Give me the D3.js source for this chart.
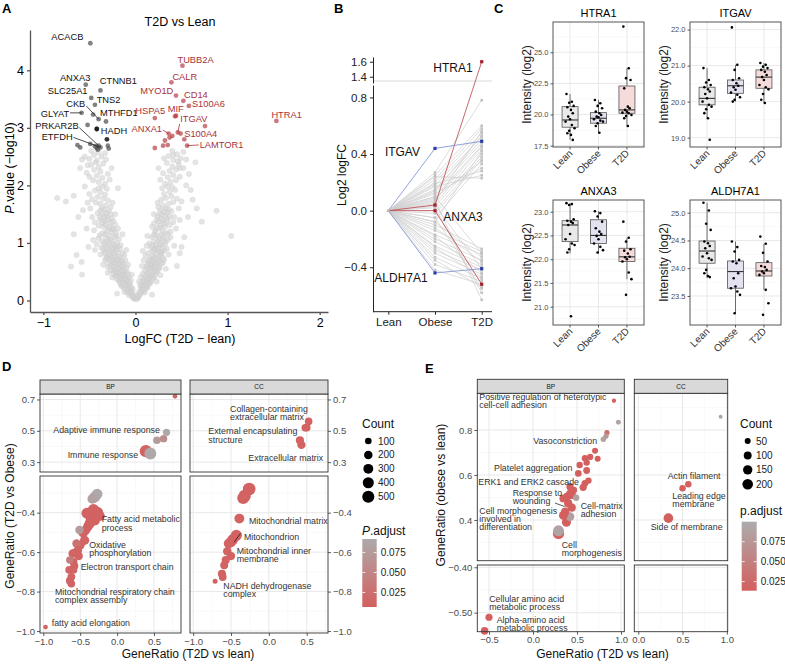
<!DOCTYPE html>
<html><head><meta charset="utf-8">
<script src="https://cdn.jsdelivr.net/npm/d3@7/dist/d3.min.js"></script>
<style>body{margin:0;background:#fff}</style>
</head><body>
<svg id="fig" width="785" height="664" xmlns="http://www.w3.org/2000/svg"></svg>
<script>
const FONT = "'Liberation Sans', Arial, Helvetica, sans-serif";

// ================= DATA =================
// Panel A: volcano (logFC, -log10 P)
const volcanoGrey = [
 [-0.01,0.03],[-0.03,0.06],[-0.02,0.10],[-0.05,0.12],[-0.04,0.16],[-0.06,0.19],[-0.08,0.17],[-0.03,0.20],
 [-0.05,0.24],[-0.08,0.26],[-0.10,0.29],[-0.06,0.31],[-0.12,0.33],[-0.09,0.36],[-0.14,0.38],[-0.07,0.40],[-0.11,0.42],[-0.16,0.44],[-0.13,0.47],[-0.19,0.48],[-0.09,0.49],
 [-0.12,0.52],[-0.17,0.54],[-0.22,0.55],[-0.10,0.57],[-0.15,0.60],[-0.20,0.62],[-0.25,0.63],[-0.13,0.65],[-0.18,0.68],[-0.23,0.70],[-0.28,0.72],[-0.16,0.74],[-0.21,0.77],[-0.26,0.78],[-0.31,0.76],[-0.12,0.79],[-0.30,0.58],
 [-0.14,0.82],[-0.19,0.84],[-0.24,0.86],[-0.29,0.88],[-0.34,0.85],[-0.17,0.90],[-0.22,0.93],[-0.27,0.95],[-0.32,0.97],[-0.20,1.00],[-0.25,1.02],[-0.30,1.05],[-0.36,1.03],[-0.18,1.07],[-0.23,1.10],[-0.28,1.12],[-0.33,1.15],[-0.39,1.13],[-0.21,1.17],[-0.26,1.19],[-0.42,0.98],[-0.37,0.92],
 [-0.24,1.23],[-0.30,1.25],[-0.35,1.28],[-0.40,1.30],[-0.22,1.32],[-0.27,1.35],[-0.33,1.38],[-0.38,1.40],[-0.44,1.36],[-0.26,1.43],[-0.31,1.46],[-0.36,1.49],[-0.41,1.52],[-0.29,1.55],[-0.34,1.58],[-0.47,1.45],
 [-0.27,1.62],[-0.32,1.65],[-0.38,1.68],[-0.43,1.70],[-0.30,1.74],[-0.35,1.77],[-0.41,1.80],[-0.47,1.76],[-0.33,1.84],[-0.38,1.88],[-0.44,1.91],[-0.31,1.94],[-0.50,1.85],[-0.36,1.98],
 [-0.33,2.03],[-0.40,2.06],[-0.46,2.09],[-0.36,2.13],[-0.42,2.17],[-0.50,2.15],[-0.30,2.20],[-0.38,2.24],[-0.45,2.27],[-0.53,2.22],[-0.40,2.32],[-0.48,2.36],[-0.35,2.38],
 [-0.42,2.43],[-0.50,2.46],[-0.37,2.50],[-0.45,2.53],[-0.55,2.50],[-0.40,2.58],[-0.48,2.60],[-0.33,2.56],
 [-0.85,1.78],[-0.755,1.72],[-0.67,1.82],[-0.67,1.15],[-0.70,0.59],[-0.64,0.79],[-0.585,0.67],[-0.51,0.93],[-0.55,1.98],[-0.57,1.57],[-0.19,1.95],[-0.60,2.30],[-0.62,1.45],[-0.58,0.45],[-0.53,1.25],
 [-0.15,0.25],[-0.18,0.35],[-0.21,0.45],[-0.24,0.52],[-0.08,0.62],[-0.11,0.70],[-0.27,0.60],[-0.33,0.70],[-0.35,0.90],[-0.16,0.96],[-0.40,1.08],[-0.14,1.15],[-0.19,1.25],[-0.45,1.22],[-0.37,1.60],[-0.25,1.70],[-0.40,1.95],[-0.28,2.10],[-0.43,2.40],[-0.52,2.35],[-0.20,0.12],[-0.12,0.15],[-0.07,0.09],[-0.25,0.40],[-0.30,0.48],[-0.05,0.35],[-0.04,0.45],[-0.35,0.62],[-0.38,0.80],[-0.44,0.88],[-0.10,0.88],[-0.46,1.05],[-0.22,1.50],[-0.49,1.60],[-0.52,1.70],[-0.26,2.30],[-0.32,2.45],[-0.58,2.45],
 [-0.02,0.04],[-0.04,0.08],[-0.06,0.13],[-0.09,0.14],[-0.11,0.20],[-0.13,0.23],[-0.08,0.22],[-0.16,0.28],[-0.12,0.27],[-0.07,0.28],[-0.17,0.32],[-0.14,0.31],[-0.10,0.35],[-0.20,0.37],[-0.16,0.39],[-0.12,0.39],[-0.22,0.42],[-0.18,0.43],[-0.13,0.44],[-0.08,0.45],[-0.24,0.47],[-0.21,0.50],[-0.17,0.50],[-0.14,0.52],
 [-0.27,0.53],[-0.19,0.57],[-0.23,0.59],[-0.17,0.63],[-0.14,0.60],[-0.29,0.65],[-0.22,0.66],[-0.26,0.68],[-0.20,0.71],[-0.15,0.69],[-0.32,0.73],[-0.25,0.74],[-0.18,0.76],[-0.29,0.80],[-0.23,0.82],[-0.33,0.82],[-0.27,0.84],[-0.21,0.88],[-0.31,0.91],[-0.25,0.91],[-0.19,0.94],[-0.29,0.99],[-0.23,0.97],[-0.34,1.00],
 [-0.27,1.06],[-0.32,1.09],[-0.21,1.12],[-0.36,1.17],[-0.31,1.20],[-0.25,1.25],[-0.33,1.32],[-0.28,1.29],[-0.36,1.36],[-0.30,1.41],[-0.24,1.38],[-0.39,1.45],[-0.34,1.45],[-0.27,1.50],[-0.32,1.52],[-0.38,1.56],
 [0.01,0.02],[0.03,0.05],[0.02,0.09],[0.05,0.11],[0.04,0.15],[0.07,0.18],[0.06,0.21],
 [0.08,0.24],[0.05,0.27],[0.10,0.29],[0.07,0.32],[0.12,0.34],[0.09,0.37],[0.14,0.39],[0.06,0.41],[0.11,0.43],[0.16,0.45],[0.13,0.48],[0.19,0.47],
 [0.10,0.52],[0.15,0.54],[0.20,0.56],[0.12,0.59],[0.17,0.61],[0.23,0.63],[0.14,0.66],[0.19,0.68],[0.25,0.70],[0.16,0.73],[0.21,0.75],[0.27,0.77],[0.11,0.78],[0.30,0.66],
 [0.14,0.82],[0.19,0.85],[0.24,0.87],[0.29,0.84],[0.17,0.91],[0.22,0.93],[0.27,0.96],[0.32,0.98],[0.15,0.99],[0.20,1.02],[0.25,1.04],[0.30,1.07],[0.35,1.05],[0.18,1.10],[0.23,1.13],[0.28,1.15],[0.33,1.18],[0.38,1.10],[0.21,1.19],
 [0.22,1.23],[0.27,1.26],[0.32,1.28],[0.37,1.31],[0.20,1.34],[0.25,1.37],[0.30,1.39],[0.35,1.42],[0.41,1.36],[0.24,1.46],[0.29,1.49],[0.34,1.52],[0.39,1.55],[0.27,1.57],
 [0.25,1.62],[0.30,1.65],[0.36,1.68],[0.41,1.71],[0.28,1.75],[0.33,1.78],[0.39,1.81],[0.45,1.77],[0.31,1.85],[0.37,1.89],[0.43,1.92],[0.29,1.95],[0.35,1.98],
 [0.32,2.03],[0.38,2.06],[0.44,2.09],[0.35,2.14],[0.41,2.18],[0.48,2.15],[0.30,2.21],[0.37,2.25],[0.44,2.28],[0.40,2.33],[0.47,2.37],[0.34,2.39],
 [0.41,2.44],[0.49,2.47],[0.36,2.51],[0.45,2.54],[0.40,2.60],[0.52,2.58],
 [0.88,1.56],[1.04,1.12],[0.72,1.37],[0.665,1.60],[0.60,1.92],[0.48,1.40],[0.48,0.82],[0.50,0.93],[0.41,2.53],[0.48,2.30],[0.55,2.00],[0.62,1.75],[0.57,1.45],[0.53,1.10],[0.45,0.60],[0.58,2.20],[0.65,2.40],
 [0.13,0.22],[0.16,0.31],[0.20,0.40],[0.23,0.49],[0.07,0.60],[0.09,0.70],[0.26,0.58],[0.31,0.71],[0.34,0.90],[0.12,0.95],[0.38,1.20],[0.13,1.12],[0.18,1.28],[0.42,1.45],[0.33,1.60],[0.24,1.70],[0.40,1.97],[0.27,2.10],[0.46,2.42],[0.52,2.30],[0.18,0.10],[0.10,0.14],[0.23,0.33],[0.27,0.44],[0.04,0.33],[0.33,0.55],[0.36,0.80],[0.42,0.95],[0.08,0.86],[0.44,1.25],[0.20,1.50],[0.47,1.60],[0.50,1.72],[0.25,2.30],[0.31,2.47],[0.55,2.45],
 [0.02,0.04],[0.04,0.08],[0.06,0.13],[0.09,0.16],[0.11,0.21],[0.13,0.25],[0.08,0.20],[0.15,0.29],[0.11,0.27],[0.07,0.26],[0.17,0.33],[0.14,0.36],[0.10,0.33],[0.19,0.39],[0.16,0.41],[0.12,0.38],[0.21,0.44],[0.18,0.50],[0.14,0.45],[0.08,0.46],[0.24,0.52],[0.21,0.52],[0.17,0.57],[0.13,0.55],
 [0.26,0.56],[0.19,0.60],[0.22,0.60],[0.16,0.64],[0.13,0.62],[0.28,0.64],[0.21,0.66],[0.25,0.67],[0.18,0.71],[0.15,0.70],[0.30,0.74],[0.24,0.73],[0.19,0.78],[0.28,0.81],[0.22,0.81],[0.31,0.87],[0.26,0.84],[0.20,0.89],[0.29,0.92],[0.24,0.90],[0.18,0.95],[0.27,0.99],[0.22,0.98],[0.32,1.02],
 [0.25,1.08],[0.30,1.11],[0.20,1.14],[0.35,1.15],[0.29,1.21],[0.24,1.27],[0.31,1.33],[0.27,1.31],[0.34,1.37],[0.28,1.42],[0.23,1.40],[0.37,1.46],[0.32,1.47],[0.26,1.51],[0.31,1.55],[0.36,1.58]
];
const downGenes = ["ACACB","ANXA3","CTNNB1","SLC25A1","TNS2","CKB","GLYAT","MTHFD1","HADH","PRKAR2B","ETFDH"];
const downFC    = [-0.49,-0.54,-0.38,-0.48,-0.44,-0.40,-0.585,-0.32,-0.42,-0.40,-0.38];
const downP     = [4.47,3.75,3.65,3.52,3.40,3.15,3.26,3.11,2.98,2.69,2.66];
const downOtherFC = [-0.46,-0.52,-0.63,-0.60,-0.49,-0.44,-0.42,-0.30,-0.29,-0.41];
const downOtherP  = [3.23,3.05,2.70,2.66,2.72,2.68,2.65,2.69,2.64,2.62];
const downStrongFC = [-0.42,-0.31];
const downStrongP  = [2.98,2.80];
const upGenes = ["TUBB2A","CALR","MYO1D","CD14","S100A6","MIF","HSPA5","ITGAV","ANXA1","S100A4","LAMTOR1","HTRA1"];
const upFC    = [0.51,0.39,0.44,0.52,0.58,0.43,0.21,0.46,0.36,0.49,0.56,1.53];
const upP     = [4.08,3.79,3.56,3.47,3.38,3.20,3.17,2.92,2.90,2.90,2.69,3.12];
const upOtherFC = [0.755,0.40,0.37,0.53,0.21,0.30,0.35,0.44,0.32];
const upOtherP  = [3.03,2.86,2.83,2.80,2.65,2.69,2.70,3.21,2.78];

// Panel B: log2 logFC trajectories
const bGroups = ["Lean","Obese","T2D"];
const bGreyObese = [0.27,0.25,0.22,0.20,0.18,0.15,0.13,0.10,0.08,0.05,0.03,0.00,-0.02,-0.05,0.12,0.17,0.24,0.06,-0.08,0.09,0.14,0.19,
  -0.10,-0.14,-0.17,-0.20,-0.22,-0.25,-0.28,-0.30,-0.33,-0.38,-0.42,-0.05,0.02,0.07,-0.12,-0.18,-0.26,0.10,-0.35,-0.08,0.04];
const bGreyT2D = [0.78,0.60,0.58,0.55,0.52,0.50,0.48,0.46,0.45,0.43,0.40,0.38,0.36,0.33,0.30,0.25,0.23,0.56,0.42,0.35,0.53,0.28,
  -0.27,-0.29,-0.31,-0.35,-0.38,-0.40,-0.42,-0.45,-0.48,-0.50,-0.52,-0.55,-0.58,-0.63,-0.36,-0.44,-0.47,-0.30,-0.54,-0.33,-0.41];
const bHiGenes = ["HTRA1","ANXA3","ITGAV","ALDH7A1"];
const bHiObese = [0.04,0.00,0.44,-0.44];
const bHiT2D   = [1.60,-0.52,0.49,-0.41];
const bHiGroup = ["red","red","blue","blue"];

// Panel C: intensity (log2) per protein and group
const cGroups = ["Lean","Obese","T2D"];
const cProteins = ["HTRA1","ITGAV","ANXA3","ALDH7A1"];
const htra1Pts = [
 [21.65,21.03,20.95,20.69,20.58,20.37,20.1,19.83,19.62,19.43,19.16,18.9,18.7,18.49,18.36,17.96],
 [21.17,20.9,20.69,20.5,20.23,20.1,19.96,19.83,19.78,19.62,19.51,19.43,19.3,19.08,18.54],
 [27.06,23.71,22.92,22.77,22.1,20.63,20.5,20.37,20.23,20.15,20.1,19.96,19.88,19.7,19.08]];
const htra1Box = [[18.98,19.56,20.63,17.96,21.65],[19.3,19.7,20.15,18.54,21.17],[20.1,20.37,22.29,19.08,23.71]];
const itgavPts = [
 [20.93,20.6,20.53,20.46,20.4,20.34,20.28,20.21,20.09,20.0,19.91,19.86,19.79,19.68,19.54,18.94],
 [22.06,21.02,20.88,20.65,20.6,20.51,20.44,20.4,20.33,20.25,20.19,20.12,20.05,20.0],
 [21.07,21.02,20.97,20.93,20.88,20.83,20.74,20.68,20.6,20.46,20.4,20.34,20.21,20.05,19.96]];
const itgavBox = [[19.91,20.09,20.4,19.54,20.93],[20.23,20.44,20.6,20.0,21.02],[20.37,20.68,20.88,19.96,21.07]];
const anxa3Pts = [
 [23.18,23.16,23.14,22.84,22.81,22.79,22.76,22.72,22.53,22.42,22.33,22.3,22.21,22.14,20.8],
 [23.01,22.97,22.9,22.79,22.65,22.58,22.53,22.49,22.42,22.33,22.26,22.19,22.14],
 [22.79,22.45,22.37,22.21,22.18,22.12,22.05,22.04,22.0,21.95,21.72,21.58,21.25]];
const anxa3Box = [[22.37,22.72,22.81,22.12,23.18],[22.33,22.5,22.83,22.12,23.01],[21.95,22.05,22.23,21.58,22.45]];
const aldh7a1Pts = [
 [25.18,25.04,24.8,24.69,24.48,24.45,24.4,24.36,24.27,24.21,24.18,24.15,23.97,23.91,23.86,23.84],
 [24.48,24.38,24.3,24.15,24.12,24.09,23.91,23.82,23.67,23.64,23.58,23.52,23.19],
 [24.57,24.44,24.28,24.12,24.04,24.02,23.97,23.94,23.91,23.88,23.61,23.37,23.16]];
const aldh7a1Box = [[24.09,24.31,24.49,23.82,25.18],[23.64,23.94,24.13,23.19,24.48],[23.86,23.95,24.1,23.61,24.44]];
const cTicks = [[17.5,20,22.5,25],[19,20,21,22],[21,21.5,22,22.5,23],[23.5,24,24.5,25]];
const cDomains = [[17.39,27.43],[18.74,22.21],[20.615,23.246],[22.977,25.229]];

// Panel D: GeneRatio T2D vs lean (x) / T2D vs Obese (y)
const dBPx = [0.785,0.67,0.54,0.63,0.39,0.45,-0.27,-0.30,-0.335,-0.32,-0.27,-0.41,-0.235,-0.35,-0.30,-0.37,-0.395,-0.425,-0.51,-0.46,-0.44,-0.55,-0.50,-0.53,-0.56,-0.60,-0.52,-0.64,-0.59,-0.58,-0.65,-0.59,-0.62,-0.64,-0.62,-0.97];
const dBPy = [0.72,0.49,0.44,0.45,0.37,0.355,-0.305,-0.32,-0.33,-0.386,-0.40,-0.403,-0.417,-0.43,-0.44,-0.454,-0.47,-0.488,-0.488,-0.50,-0.54,-0.556,-0.565,-0.59,-0.60,-0.607,-0.62,-0.64,-0.65,-0.67,-0.69,-0.69,-0.725,-0.745,-0.76,-0.98];
const dBPn = [30,130,150,140,520,480,360,400,300,450,500,380,320,420,300,350,280,260,200,300,250,200,220,180,200,220,180,150,160,170,150,140,160,170,150,35];
const dBPp = [0.012,0.09,0.075,0.06,0.012,0.09,0.09,0.09,0.085,0.01,0.008,0.01,0.01,0.008,0.01,0.01,0.01,0.01,0.075,0.012,0.012,0.03,0.012,0.012,0.015,0.012,0.012,0.04,0.012,0.012,0.012,0.012,0.012,0.012,0.012,0.012];
const dCCx = [0.525,0.48,0.50,0.41,0.43,-0.26,-0.32,-0.34,-0.39,-0.43,-0.475,-0.50,-0.53,-0.55,-0.50,-0.57,-0.59,-0.62,-0.61,-0.71];
const dCCy = [0.56,0.52,0.52,0.44,0.41,-0.28,-0.315,-0.326,-0.43,-0.515,-0.535,-0.548,-0.556,-0.595,-0.62,-0.64,-0.667,-0.71,-0.726,-0.747];
const dCCn = [150,140,150,180,190,560,520,480,300,420,380,350,300,200,180,180,170,180,160,40];
const dCCp = [0.01,0.01,0.01,0.01,0.01,0.01,0.01,0.01,0.01,0.01,0.01,0.01,0.01,0.01,0.01,0.01,0.01,0.01,0.01,0.01];
const dCountLegend = [100,200,300,400,500];
const dPLegend = [0.025,0.050,0.075];

// Panel E: GeneRatio T2D vs lean (x) / obese vs lean (y)
const eBPx = [0.92,0.97,0.84,0.83,0.80,0.705,0.65,0.735,0.61,0.59,0.61,0.53,0.515,0.63,0.59,0.57,0.42,0.46,0.42,0.39,0.44,0.345,0.40,0.44,0.49,0.365,0.42,0.345,0.38,0.29,0.29,-0.50,-0.55];
const eBPy = [0.93,0.834,0.788,0.773,0.759,0.708,0.68,0.672,0.655,0.674,0.62,0.644,0.607,0.575,0.563,0.545,0.548,0.533,0.518,0.505,0.511,0.496,0.474,0.455,0.499,0.437,0.415,0.42,0.39,0.352,0.34,-0.51,-0.54];
const eBPn = [20,30,35,35,40,50,55,50,60,60,70,60,65,60,70,80,80,80,90,100,110,100,120,110,60,120,130,130,140,215,230,80,90];
const eBPp = [0.01,0.09,0.03,0.08,0.09,0.01,0.01,0.01,0.01,0.01,0.01,0.01,0.01,0.01,0.01,0.01,0.01,0.01,0.01,0.01,0.01,0.01,0.01,0.01,0.09,0.01,0.085,0.01,0.01,0.09,0.01,0.01,0.01];
const eCCx = [0.93,0.565,0.50,0.34];
const eCCy = [0.859,0.559,0.541,0.408];
const eCCn = [15,60,60,160];
const eCCp = [0.09,0.01,0.01,0.01];
const eCountLegend = [50,100,150,200];
const ePLegend = [0.025,0.050,0.075];

// ================= DRAWING =================
const svg = d3.select("#fig").attr("font-family", FONT);
svg.append("rect").attr("width",785).attr("height",664).attr("fill","#fff");

function txt(g, x, y, s, o = {}) {
  const t = g.append("text").attr("x", x).attr("y", y).text(s)
    .attr("font-size", o.size || 9).attr("fill", o.fill || "#000")
    .attr("text-anchor", o.anchor || "start");
  if (o.weight) t.attr("font-weight", o.weight);
  if (o.style) t.attr("font-style", o.style);
  if (o.rotate) t.attr("transform", `rotate(${o.rotate},${x},${y})`);
  return t;
}
function ln(g, x1, y1, x2, y2, c, w) {
  return g.append("line").attr("x1", x1).attr("y1", y1).attr("x2", x2).attr("y2", y2)
    .attr("stroke", c).attr("stroke-width", w);
}
function styleAxis(sel, o) {
  sel.attr("font-family", FONT).attr("font-size", o.size);
  sel.select(".domain").attr("stroke", o.domain === false ? "none" : (o.line || "#333")).attr("stroke-width", o.lw || 1);
  sel.selectAll(".tick line").attr("stroke", o.line || "#333").attr("stroke-width", o.lw || 1);
  sel.selectAll(".tick text").attr("fill", o.text || "#4d4d4d");
}
function panelLetter(x, y, s) { txt(svg, x, y, s, {size: 13, weight: "bold"}); }

// ---------- Panel A ----------
{
  const g = svg.append("g");
  const x = d3.scaleLinear().domain([-1.145, 2.09]).range([30, 328]);
  const y = d3.scaleLinear().domain([-0.2, 4.70]).range([312, 30]);
  panelLetter(2, 13, "A");
  txt(g, 180, 26, "T2D vs Lean", {size: 12.5, anchor: "middle"});
  g.append("g").selectAll("circle").data(volcanoGrey).join("circle")
    .attr("cx", d => x(d[0])).attr("cy", d => y(d[1])).attr("r", 2.7)
    .attr("fill", "#d2d2d2").attr("fill-opacity", 0.6)
    .attr("stroke", "#c6c6c6").attr("stroke-opacity", 0.35).attr("stroke-width", 0.6);
  const dark = downFC.map((v, i) => [v, downP[i]]).concat(downOtherFC.map((v, i) => [v, downOtherP[i]]));
  g.append("g").selectAll("circle").data(dark).join("circle")
    .attr("cx", d => x(d[0])).attr("cy", d => y(d[1])).attr("r", 2.4)
    .attr("fill", "#4d4d4d").attr("fill-opacity", 0.7);
  g.append("g").selectAll("circle").data(downStrongFC.map((v, i) => [v, downStrongP[i]])).join("circle")
    .attr("cx", d => x(d[0])).attr("cy", d => y(d[1])).attr("r", 2.4)
    .attr("fill", "#111").attr("fill-opacity", 0.85);
  const red = upFC.map((v, i) => [v, upP[i]]).concat(upOtherFC.map((v, i) => [v, upOtherP[i]]));
  g.append("g").selectAll("circle").data(red).join("circle")
    .attr("cx", d => x(d[0])).attr("cy", d => y(d[1])).attr("r", 2.4)
    .attr("fill", "#b5383f").attr("fill-opacity", 0.68);
  const downLayout = {ACACB:[-7,-3.3,"end"], ANXA3:[4.7,-3.7,"end"], CTNNB1:[-0.7,-6,"start"], SLC25A1:[-3.7,-3.6,"end"],
    TNS2:[1.7,-2,"start"], CKB:[-13.3,-12.3,"end",-12.3,-13.3], GLYAT:[-12.4,3.7,"end",-11.5,0], MTHFD1:[-6,-5.4,"start"],
    HADH:[4,5.4,"start"], PRKAR2B:[-20,-16.3,"end",-19.3,-18], ETFDH:[-27.8,-7.8,"end",-27,-10]};
  const upLayout = {TUBB2A:[-5,-3,"start"], CALR:[1,-2.6,"start"], MYO1D:[-2.7,-1.3,"end"], CD14:[0.6,-2.7,"start"],
    S100A6:[3,1,"start"], MIF:[-7.3,-4.4,"start"], HSPA5:[10.3,-4,"end"], ITGAV:[2.3,-10.7,"start",1.8,-8.7],
    ANXA1:[-6.6,-1.7,"end",-5.8,-3.5], S100A4:[3.6,3,"start"], LAMTOR1:[12.6,2.3,"start",11.8,-0.7], HTRA1:[-5,-2.6,"start"]};
  downGenes.forEach((s, i) => {
    const px = x(downFC[i]), py = y(downP[i]), L = downLayout[s];
    if (L.length > 3) ln(g, px + L[3], py + L[4], px, py, "#222", 0.8);
    txt(g, px + L[0], py + L[1], s, {size: 9.3, anchor: L[2], fill: "#111"});
  });
  upGenes.forEach((s, i) => {
    const px = x(upFC[i]), py = y(upP[i]), L = upLayout[s];
    if (L.length > 3) ln(g, px + L[3], py + L[4], px, py, "#a83238", 0.8);
    txt(g, px + L[0], py + L[1], s, {size: 9.3, anchor: L[2], fill: "#a83238"});
  });
  const ax = g.append("g").attr("transform", "translate(30,0)")
    .call(d3.axisLeft(y).tickValues([0,1,2,3,4]).tickFormat(d3.format("d")).tickSize(3).tickSizeOuter(0).tickPadding(3));
  styleAxis(ax, {size: 12.5, line: "#555", lw: 1.3, text: "#000"});
  const bx = g.append("g").attr("transform", "translate(0,312)")
    .call(d3.axisBottom(x).tickValues([-1,0,1,2]).tickFormat(d3.format("d")).tickSize(3).tickSizeOuter(0).tickPadding(3));
  styleAxis(bx, {size: 12.5, line: "#555", lw: 1.3, text: "#000"});
  txt(g, 180, 343, "LogFC (T2D \u2212 lean)", {size: 12.5, anchor: "middle"});
  const yt = g.append("text").attr("transform", "translate(14,168) rotate(-90)").attr("text-anchor", "middle").attr("font-size", 12.5);
  yt.append("tspan").attr("font-style", "italic").text("P");
  yt.append("tspan").text(".value (\u2212log10)");
}

// ---------- Panel B ----------
{
  const g = svg.append("g");
  panelLetter(334, 13, "B");
  const x = d3.scalePoint().domain(bGroups).range([388.3, 481.7]);
  const y = d3.scaleLinear().domain([-0.714, 0.888, 1.316, 1.663]).range([311.7, 85, 83, 57]);
  const yLow = d3.scaleLinear().domain([-0.714, 0.888]).range([311.7, 85]);
  const yUp = d3.scaleLinear().domain([1.316, 1.663]).range([83, 57]);
  ln(g, 373, 81, 492, 81, "#e6e6e6", 1.5);
  const line = d3.line().x(d => x(d[0])).y(d => y(d[1]));
  const greyData = bGreyObese.map((v, i) => [["Lean",0],["Obese",v],["T2D",bGreyT2D[i]]]);
  g.append("g").selectAll("path").data(greyData).join("path").attr("d", line)
    .attr("fill", "none").attr("stroke", "#cfcfcf").attr("stroke-width", 0.7);
  g.append("g").selectAll("rect").data(greyData.flatMap(d => d.slice(1))).join("rect")
    .attr("x", d => x(d[0]) - 1.3).attr("y", d => y(d[1]) - 1.3).attr("width", 2.6).attr("height", 2.6)
    .attr("fill", "#c2c2c2");
  const hiData = bHiObese.map((v, i) => [["Lean",0],["Obese",v],["T2D",bHiT2D[i]]]);
  const lc = {red: "#c0575e", blue: "#8596d6"}, pc = {red: "#a51f2a", blue: "#2b3ea8"};
  hiData.forEach((d, i) => {
    g.append("path").attr("d", line(d)).attr("fill", "none").attr("stroke", lc[bHiGroup[i]]).attr("stroke-width", 0.9);
  });
  hiData.forEach((d, i) => {
    d.slice(1).forEach(p => g.append("rect").attr("x", x(p[0]) - 1.6).attr("y", y(p[1]) - 1.6)
      .attr("width", 3.2).attr("height", 3.2).attr("fill", pc[bHiGroup[i]]));
  });
  g.append("circle").attr("cx", x("Lean")).attr("cy", y(0)).attr("r", 1.6).attr("fill", "#bbb");
  const labLayout = {HTRA1:["T2D",-9,10.3,"end"], ITGAV:["Obese",-15,7.7,"end"], ANXA3:["Obese",8.3,10.3,"start"], ALDH7A1:["Obese",-7.3,9.2,"end"]};
  bHiGenes.forEach((s, i) => {
    const L = labLayout[s];
    const v = L[0] === "T2D" ? bHiT2D[i] : bHiObese[i];
    txt(g, x(L[0]) + L[1], y(v) + L[2], s, {size: 12, anchor: L[3], fill: "#111"});
  });
  const a1 = g.append("g").attr("transform", "translate(373,0)")
    .call(d3.axisLeft(yLow).tickValues([-0.4,0,0.4,0.8]).tickFormat(d3.format(".1f")).tickSize(3).tickSizeOuter(0).tickPadding(3));
  styleAxis(a1, {size: 11.5, line: "#222", lw: 1, text: "#222"});
  const a2 = g.append("g").attr("transform", "translate(373,0)")
    .call(d3.axisLeft(yUp).tickValues([1.4,1.6]).tickFormat(d3.format(".1f")).tickSize(3).tickSizeOuter(0).tickPadding(3));
  styleAxis(a2, {size: 11.5, line: "#222", lw: 1, text: "#222"});
  const a3 = g.append("g").attr("transform", "translate(0,311.7)")
    .call(d3.axisBottom(d3.scalePoint().domain(bGroups).range([388.3, 481.7])).tickSize(3).tickSizeOuter(0).tickPadding(3));
  a3.select(".domain").remove();
  ln(a3, 373, 0, 492, 0, "#222", 1);
  styleAxis(a3, {size: 11.5, line: "#222", lw: 1, text: "#222"});
  txt(g, 346, 175, "Log2 logFC", {size: 12, anchor: "middle", rotate: -90, fill: "#111"});
}

// ---------- Panel C ----------
{
  const g = svg.append("g");
  panelLetter(494, 13, "C");
  const pts = [htra1Pts, itgavPts, anxa3Pts, aldh7a1Pts];
  const boxes = [htra1Box, itgavBox, anxa3Box, aldh7a1Box];
  const layout = [[553, 22], [690, 22], [553, 200], [690, 200]];
  const W = 91, H = 125;
  const fills = ["#e9e9e9", "#e2e2f0", "#f5dcda"];
  const jit = [-4, 2, -1, 4, -3, 1, 3, -2, 0, -5, 2, 5, -1, -3, 1, 3];
  cProteins.forEach((name, k) => {
    const [x0, y0] = layout[k];
    const x = d3.scalePoint().domain(cGroups).range([x0 + W * 0.1875, x0 + W * 0.8125]);
    const y = d3.scaleLinear().domain(cDomains[k]).range([y0 + H, y0]);
    const pg = g.append("g");
    pg.append("rect").attr("x", x0).attr("y", y0).attr("width", W).attr("height", H).attr("fill", "#fff");
    const t = cTicks[k];
    for (let i = 0; i < t.length - 1; i++) ln(pg, x0, y((t[i] + t[i + 1]) / 2), x0 + W, y((t[i] + t[i + 1]) / 2), "#f3f3f3", 0.5);
    const step = t[1] - t[0];
    [t[0] - step / 2, t[t.length - 1] + step / 2].forEach(v => { if (v > cDomains[k][0] && v < cDomains[k][1]) ln(pg, x0, y(v), x0 + W, y(v), "#f3f3f3", 0.5); });
    t.forEach(v => ln(pg, x0, y(v), x0 + W, y(v), "#e6e6e6", 0.9));
    cGroups.forEach(c => ln(pg, x(c), y0, x(c), y0 + H, "#e6e6e6", 0.9));
    cGroups.forEach((c, j) => {
      const b = boxes[k][j], cx = x(c), hw = 8;
      ln(pg, cx, y(b[3]), cx, y(b[0]), "#333", 0.7);
      ln(pg, cx, y(b[2]), cx, y(b[4]), "#333", 0.7);
      pg.append("rect").attr("x", cx - hw).attr("y", y(b[2])).attr("width", 2 * hw).attr("height", y(b[0]) - y(b[2]))
        .attr("fill", fills[j]).attr("stroke", "#555").attr("stroke-width", 0.8);
      ln(pg, cx - hw, y(b[1]), cx + hw, y(b[1]), "#333", 1.1);
      pg.append("g").selectAll("circle").data(pts[k][j]).join("circle")
        .attr("cx", (d, i) => cx + jit[i % jit.length] * 0.9).attr("cy", d => y(d)).attr("r", 1.3).attr("fill", "#000");
    });
    pg.append("rect").attr("x", x0).attr("y", y0).attr("width", W).attr("height", H)
      .attr("fill", "none").attr("stroke", "#444").attr("stroke-width", 0.9);
    const ay = pg.append("g").attr("transform", `translate(${x0},0)`)
      .call(d3.axisLeft(y).tickValues(t).tickFormat(d3.format(".1f")).tickSize(2.5).tickSizeOuter(0).tickPadding(2));
    styleAxis(ay, {size: 7.5, line: "#333", lw: 0.8, text: "#4d4d4d", domain: false});
    cGroups.forEach(c => {
      ln(pg, x(c), y0 + H, x(c), y0 + H + 2.5, "#333", 0.8);
      txt(pg, x(c) + 3, y0 + H + 7, c, {size: 10, anchor: "end", rotate: -45, fill: "#333"});
    });
    txt(pg, x0 + W / 2, y0 - 5, name, {size: 11, anchor: "middle", fill: "#000"});
    txt(pg, x0 - 22, y0 + H / 2, "Intensity (log2)", {size: 12, anchor: "middle", rotate: -90, fill: "#222"});
  });
}

// ---------- helpers for facet panels (D, E) ----------
function gridPanel(g, x0, x1, y0, y1, xs, ys, xMaj, xMin, yMaj, yMin) {
  g.append("rect").attr("x", x0).attr("y", y0).attr("width", x1 - x0).attr("height", y1 - y0).attr("fill", "#fff");
  yMin.forEach(v => ln(g, x0, ys(v), x1, ys(v), "#f3f3f3", 0.5));
  xMin.forEach(v => ln(g, xs(v), y0, xs(v), y1, "#f3f3f3", 0.5));
  yMaj.forEach(v => ln(g, x0, ys(v), x1, ys(v), "#e5e5e5", 0.9));
  xMaj.forEach(v => ln(g, xs(v), y0, xs(v), y1, "#e5e5e5", 0.9));
}
function borderPanel(g, x0, x1, y0, y1) {
  g.append("rect").attr("x", x0).attr("y", y0).attr("width", x1 - x0).attr("height", y1 - y0)
    .attr("fill", "none").attr("stroke", "#333").attr("stroke-width", 0.9);
}
function strip(g, x0, x1, y0, y1, s) {
  g.append("rect").attr("x", x0).attr("y", y0).attr("width", x1 - x0).attr("height", y1 - y0)
    .attr("fill", "#d9d9d9").attr("stroke", "#333").attr("stroke-width", 0.9);
  txt(g, (x0 + x1) / 2, (y0 + y1) / 2 + 2.3, s, {size: 6.5, anchor: "middle", fill: "#1a1a1a"});
}
function dots(g, xs, ys, X, Y, N, P, rScale, cScale, filter) {
  const d = X.map((v, i) => ({x: v, y: Y[i], n: N[i], p: P[i]})).filter(filter).sort((a, b) => b.n - a.n);
  g.append("g").selectAll("circle").data(d).join("circle")
    .attr("cx", e => xs(e.x)).attr("cy", e => ys(e.y)).attr("r", e => rScale(e.n)).attr("fill", e => cScale(e.p));
}
function multiLabel(g, x, y, lines, lh, size) {
  const t = g.append("text").attr("x", x).attr("y", y).attr("font-size", size || 8.8).attr("fill", "#333");
  lines.forEach((s, i) => t.append("tspan").attr("x", x).attr("dy", i === 0 ? 0 : lh).text(s));
}
function colorbar(g, x0, y0, w, h, cScale, dom, ticks, id) {
  const grad = svg.append("defs").append("linearGradient").attr("id", id).attr("x1", 0).attr("y1", 1).attr("x2", 0).attr("y2", 0);
  d3.range(0, 1.0001, 0.1).forEach(t => grad.append("stop").attr("offset", t).attr("stop-color", cScale(dom[0] + t * (dom[1] - dom[0]))));
  g.append("rect").attr("x", x0).attr("y", y0).attr("width", w).attr("height", h).attr("fill", `url(#${id})`);
  const ys = d3.scaleLinear().domain(dom).range([y0 + h, y0]);
  ticks.forEach(v => {
    ln(g, x0, ys(v), x0 + 3, ys(v), "#fff", 0.8);
    ln(g, x0 + w - 3, ys(v), x0 + w, ys(v), "#fff", 0.8);
    txt(g, x0 + w + 4, ys(v) + 3.5, d3.format(".3f")(v), {size: 10, fill: "#222"});
  });
}

// ---------- Panel D ----------
{
  const g = svg.append("g");
  panelLetter(2, 371, "D");
  const rS = d3.scaleSqrt().domain([10, 550]).range([1.8, 6.3]);
  const cS = d3.scaleLinear().domain([0.0068, 0.095]).range(["#d45f5f", "#acacac"]).clamp(true);
  const xBP = d3.scaleLinear().domain([-1.045, 0.866]).range([40, 181]);
  const xCC = d3.scaleLinear().domain([-1.042, 0.781]).range([190, 328]);
  const yUp = d3.scaleLinear().domain([0.237, 0.735]).range([472, 394]);
  const yDn = d3.scaleLinear().domain([-1.01, -0.214]).range([633, 476]);
  const xMaj = [-1, -0.5, 0, 0.5], xMin = [-0.75, -0.25, 0.25, 0.75];
  const upMaj = [0.3, 0.5, 0.7], upMin = [0.4, 0.6];
  const dnMaj = [-1, -0.8, -0.6, -0.4], dnMin = [-0.9, -0.7, -0.5, -0.3];
  [[40, 181, xBP, dBPx, dBPy, dBPn, dBPp], [190, 328, xCC, dCCx, dCCy, dCCn, dCCp]].forEach(([x0, x1, xs, X, Y, N, P]) => {
    gridPanel(g, x0, x1, 394, 472, xs, yUp, xMaj, xMin.filter(v => xs(v) < x1), upMaj, upMin);
    gridPanel(g, x0, x1, 476, 633, xs, yDn, xMaj, xMin.filter(v => xs(v) < x1), dnMaj, dnMin);
    dots(g, xs, yUp, X, Y, N, P, rS, cS, e => e.y > 0);
    dots(g, xs, yDn, X, Y, N, P, rS, cS, e => e.y < 0);
  });
  const LH = 8.4;
  multiLabel(g, xBP(-0.865), yUp(0.489), ["Adaptive immune response"], LH);
  multiLabel(g, xBP(-0.670), yUp(0.324), ["Immune response"], LH);
  multiLabel(g, xBP(-0.209), yDn(-0.449), ["Fatty acid metabolic", "process"], LH);
  multiLabel(g, xBP(-0.377), yDn(-0.578), ["Oxidative", "phosphorylation"], LH);
  multiLabel(g, xBP(-0.494), yDn(-0.693), ["Electron transport chain"], LH);
  multiLabel(g, xBP(-0.842), yDn(-0.815), ["Mitochondrial respiratory chain", "complex assembly"], LH);
  multiLabel(g, xBP(-0.886), yDn(-0.975), ["fatty acid elongation"], LH);
  multiLabel(g, xCC(-0.513), yUp(0.621), ["Collagen-containing", "extracellular matrix"], LH);
  multiLabel(g, xCC(-0.800), yUp(0.478), ["External encapsulating", "structure"], LH);
  multiLabel(g, xCC(-0.271), yUp(0.309), ["Extracellular matrix"], LH);
  multiLabel(g, xCC(-0.262), yDn(-0.457), ["Mitochondrial matrix"], LH);
  multiLabel(g, xCC(-0.330), yDn(-0.537), ["Mitochondrion"], LH);
  ln(g, xCC(-0.375), yDn(-0.505), xCC(-0.46), yDn(-0.55), "#111", 0.7);
  multiLabel(g, xCC(-0.425), yDn(-0.607), ["Mitochondrial inner", "membrane"], LH);
  multiLabel(g, xCC(-0.602), yDn(-0.785), ["NADH dehydrogenase", "complex"], LH);
  [[40, 181], [190, 328]].forEach(([x0, x1]) => { borderPanel(g, x0, x1, 394, 472); borderPanel(g, x0, x1, 476, 633); });
  strip(g, 40, 181, 380, 394, "BP");
  strip(g, 190, 328, 380, 394, "CC");
  const fmt = d3.format(".1f");
  const axO = {size: 9.5, line: "#333", lw: 0.8, text: "#4d4d4d", domain: false};
  styleAxis(g.append("g").attr("transform", "translate(40,0)").call(d3.axisLeft(yUp).tickValues(upMaj).tickFormat(fmt).tickSize(3).tickPadding(2)), axO);
  styleAxis(g.append("g").attr("transform", "translate(40,0)").call(d3.axisLeft(yDn).tickValues(dnMaj).tickFormat(fmt).tickSize(3).tickPadding(2)), axO);
  styleAxis(g.append("g").attr("transform", "translate(328,0)").call(d3.axisRight(yUp).tickValues(upMaj).tickFormat(fmt).tickSize(3).tickPadding(2)), axO);
  styleAxis(g.append("g").attr("transform", "translate(328,0)").call(d3.axisRight(yDn).tickValues(dnMaj).tickFormat(fmt).tickSize(3).tickPadding(2)), axO);
  styleAxis(g.append("g").attr("transform", "translate(0,633)").call(d3.axisBottom(xBP).tickValues(xMaj).tickFormat(fmt).tickSize(3).tickPadding(2)), axO);
  styleAxis(g.append("g").attr("transform", "translate(0,633)").call(d3.axisBottom(xCC).tickValues(xMaj).tickFormat(fmt).tickSize(3).tickPadding(2)), axO);
  txt(g, 188, 658, "GeneRatio (T2D vs lean)", {size: 12, anchor: "middle", fill: "#111"});
  txt(g, 14, 516, "GeneRatio (T2D vs Obese)", {size: 12, anchor: "middle", rotate: -90, fill: "#111"});
  txt(g, 362, 428, "Count", {size: 12, fill: "#111"});
  const ly = d3.scalePoint().domain(dCountLegend).range([441, 496.7]);
  dCountLegend.forEach(v => {
    g.append("circle").attr("cx", 368.3).attr("cy", ly(v)).attr("r", rS(v)).attr("fill", "#000");
    txt(g, 378, ly(v) + 3.5, String(v), {size: 10, fill: "#222"});
  });
  const pt = g.append("text").attr("x", 362).attr("y", 535).attr("font-size", 12).attr("fill", "#111");
  pt.append("tspan").attr("font-style", "italic").text("P");
  pt.append("tspan").text(".adjust");
  colorbar(g, 362.3, 539, 14.4, 68, cS, [0.0068, 0.092], dPLegend, "gradD");
}

// ---------- Panel E ----------
{
  const g = svg.append("g");
  panelLetter(425, 373, "E");
  const rS = d3.scaleSqrt().domain([50, 200]).range([3, 5.3]);
  const cS = d3.scaleLinear().domain([0.0136, 0.1]).range(["#d45f5f", "#acacac"]).clamp(true);
  const xBP = d3.scaleLinear().domain([-0.633, 1.0375]).range([477.3, 624.3]);
  const xCC = d3.scaleLinear().domain([-0.045, 1.01]).range([634.3, 727.7]);
  const yUp = d3.scaleLinear().domain([0.219, 0.963]).range([560.7, 393.3]);
  const yDn = d3.scaleLinear().domain([-0.5418, -0.395]).range([631.7, 565]);
  const upMaj = [0.4, 0.6, 0.8], upMin = [0.3, 0.5, 0.7, 0.9];
  const dnMaj = [-0.5, -0.4], dnMin = [-0.45];
  [[477.3, 624.3, xBP, [-0.5, 0, 0.5, 1], [-0.25, 0.25, 0.75], eBPx, eBPy, eBPn, eBPp],
   [634.3, 727.7, xCC, [0, 0.5, 1], [0.25, 0.75], eCCx, eCCy, eCCn, eCCp]].forEach(([x0, x1, xs, xMaj, xMin, X, Y, N, P]) => {
    gridPanel(g, x0, x1, 393.3, 560.7, xs, yUp, xMaj, xMin, upMaj, upMin);
    gridPanel(g, x0, x1, 565, 631.7, xs, yDn, xMaj, xMin, dnMaj, dnMin);
    dots(g, xs, yUp, X, Y, N, P, rS, cS, e => e.y > 0);
    dots(g, xs, yDn, X, Y, N, P, rS, cS, e => e.y < 0);
  });
  const LH = 8.2;
  multiLabel(g, xBP(-0.610), yUp(0.935), ["Positive regulation of heterotypic", "cell-cell adhesion"], LH);
  multiLabel(g, xBP(0.003), yUp(0.739), ["Vasoconstriction"], LH);
  multiLabel(g, xBP(-0.443), yUp(0.619), ["Platelet aggregation"], LH);
  multiLabel(g, xBP(-0.622), yUp(0.557), ["ERK1 and ERK2 cascade"], LH);
  multiLabel(g, xBP(-0.231), yUp(0.507), ["Response to", "wounding"], LH);
  ln(g, xBP(0.25), yUp(0.475), xBP(0.36), yUp(0.46), "#111", 0.7);
  multiLabel(g, xBP(-0.610), yUp(0.427), ["Cell morphogenesis", "involved in", "differentiation"], LH);
  multiLabel(g, xBP(0.542), yUp(0.451), ["Cell-matrix", "adhesion"], LH);
  multiLabel(g, xBP(0.326), yUp(0.277), ["Cell", "morphogenesis"], LH);
  multiLabel(g, xBP(-0.497), yDn(-0.476), ["Cellular amino acid", "metabolic process"], LH);
  multiLabel(g, xBP(-0.413), yDn(-0.522), ["Alpha-amino acid", "metabolic process"], LH);
  multiLabel(g, xCC(0.333), yUp(0.583), ["Actin filament"], LH);
  multiLabel(g, xCC(0.385), yUp(0.492), ["Leading edge", "membrane"], LH);
  multiLabel(g, xCC(0.140), yUp(0.354), ["Side of membrane"], LH);
  [[477.3, 624.3], [634.3, 727.7]].forEach(([x0, x1]) => { borderPanel(g, x0, x1, 393.3, 560.7); borderPanel(g, x0, x1, 565, 631.7); });
  strip(g, 477.3, 624.3, 379.3, 393.3, "BP");
  strip(g, 634.3, 727.7, 379.3, 393.3, "CC");
  const axO = {size: 9.5, line: "#333", lw: 0.8, text: "#4d4d4d", domain: false};
  styleAxis(g.append("g").attr("transform", "translate(477.3,0)").call(d3.axisLeft(yUp).tickValues(upMaj).tickFormat(d3.format(".1f")).tickSize(3).tickPadding(2)), axO);
  styleAxis(g.append("g").attr("transform", "translate(477.3,0)").call(d3.axisLeft(yDn).tickValues(dnMaj).tickFormat(d3.format(".2f")).tickSize(3).tickPadding(2)), axO);
  styleAxis(g.append("g").attr("transform", "translate(0,631.7)").call(d3.axisBottom(xBP).tickValues([-0.5, 0, 0.5, 1]).tickFormat(d3.format(".1f")).tickSize(3).tickPadding(2)), axO);
  styleAxis(g.append("g").attr("transform", "translate(0,631.7)").call(d3.axisBottom(xCC).tickValues([0, 0.5, 1]).tickFormat(d3.format(".1f")).tickSize(3).tickPadding(2)), axO);
  txt(g, 602.5, 658, "GeneRatio (T2D vs lean)", {size: 12, anchor: "middle", fill: "#111"});
  txt(g, 445, 495, "GeneRatio (obese vs lean)", {size: 12, anchor: "middle", rotate: -90, fill: "#111"});
  txt(g, 740, 428, "Count", {size: 12, fill: "#111"});
  const ly = d3.scalePoint().domain(eCountLegend).range([441, 484.3]);
  eCountLegend.forEach(v => {
    g.append("circle").attr("cx", 747.7).attr("cy", ly(v)).attr("r", rS(v)).attr("fill", "#000");
    txt(g, 756, ly(v) + 3.5, String(v), {size: 10, fill: "#222"});
  });
  txt(g, 740, 515, "p.adjust", {size: 12, fill: "#111"});
  colorbar(g, 741.7, 521.7, 15, 69, cS, [0.0136, 0.1], ePLegend, "gradE");
}
</script>
</body></html>
